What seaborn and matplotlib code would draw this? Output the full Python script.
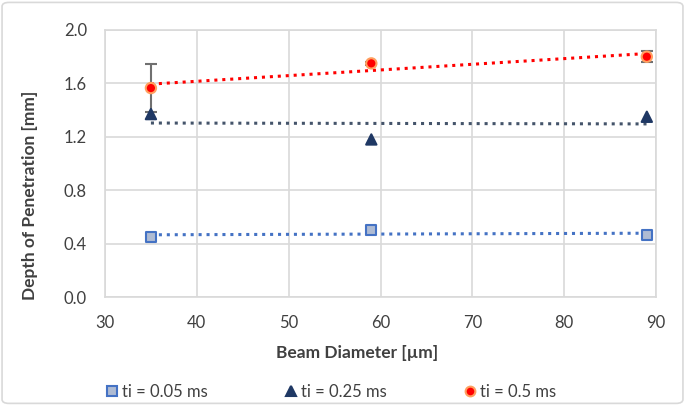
import numpy as np
import pandas as pd
import seaborn as sns
import matplotlib.pyplot as plt
from matplotlib.patches import FancyBboxPatch

beam = [35, 59, 89]
dop_005 = [0.45, 0.50, 0.465]
dop_025 = [1.37, 1.18, 1.35]
dop_05 = [1.565, 1.75, 1.80]
err_05 = [0.18, 0.01, 0.04]

series = ["ti = 0.05 ms", "ti = 0.25 ms", "ti = 0.5 ms"]

df = pd.DataFrame({
    "beam": beam * 3,
    "dop": dop_005 + dop_025 + dop_05,
    "series": [s for s in series for _ in beam],
})

sns.set_style("white")
plt.rcParams["font.family"] = ["Lato", "DejaVu Sans"]

fig = plt.figure(figsize=(6.85, 4.05), dpi=100)
ax = fig.add_axes([105 / 685, 1 - 297 / 405, 551 / 685, 267 / 405])

line_cols = {series[0]: "#4472C4", series[1]: "#44546A", series[2]: "#FF0000"}
for s in series:
    sub = df[df["series"] == s]
    sns.regplot(data=sub, x="beam", y="dop", ax=ax, scatter=False, ci=None,
                truncate=True,
                line_kws=dict(color=line_cols[s], linestyle=(0, (1, 1.6)), lw=2.2))

# error bars on 0.5 ms
ax.errorbar(beam, dop_05, yerr=err_05, fmt="none", ecolor="#707070",
            elinewidth=1.5, capsize=4, capthick=1.5, zorder=3)

sns.scatterplot(data=df, x="beam", y="dop", hue="series", style="series",
                markers={series[0]: "s", series[1]: "^", series[2]: "o"},
                palette={series[0]: "#AEBBD3", series[1]: "#203864", series[2]: "#FF0000"},
                s=55, ax=ax, zorder=4, legend=False)
# edge colours
coll = ax.collections[-1]
edges = []
for s in df["series"]:
    edges.append({series[0]: "#4472C4", series[1]: "#1F3864", series[2]: "#FFA060"}[s])
coll.set_edgecolors(edges)
coll.set_linewidths(1.5)

ax.set_xlim(30, 90)
ax.set_ylim(0, 2.0)
ax.set_xticks(np.arange(30, 91, 10))
ax.set_yticks(np.arange(0, 2.01, 0.4))
ax.set_yticklabels([f"{v:.1f}" for v in np.arange(0, 2.01, 0.4)])
ax.grid(True, color="#D9D9D9", lw=1.2)
for sp in ax.spines.values():
    sp.set_color("#D9D9D9")
    sp.set_linewidth(1.2)
ax.tick_params(length=0, labelsize=12, colors="#404040")
ax.tick_params(axis="x", pad=13)
ax.tick_params(axis="y", pad=13)
ax.set_xlabel("Beam Diameter [µm]", fontsize=12.5, fontweight="bold", color="#404040")
ax.set_ylabel("Depth of Penetration [mm]", fontsize=12.5, fontweight="bold", color="#404040")
ax.xaxis.set_label_coords((357 - 105) / 551, -(345 - 297) / 267)
ax.yaxis.set_label_coords((38 - 105) / 551, (297 - 195) / 267)

handles = [
    plt.Line2D([], [], marker="s", ls="none", markersize=7, markerfacecolor="#AEBBD3",
               markeredgecolor="#4472C4", markeredgewidth=1.5),
    plt.Line2D([], [], marker="^", ls="none", markersize=7, markerfacecolor="#203864",
               markeredgecolor="#1F3864", markeredgewidth=1.5),
    plt.Line2D([], [], marker="o", ls="none", markersize=7, markerfacecolor="#FF0000",
               markeredgecolor="#FFA060", markeredgewidth=1.5),
]
fig.legend(handles, series, loc="center left", bbox_to_anchor=(90 / 685, 1 - 392 / 405),
           ncol=3, frameon=False, fontsize=12, handletextpad=0.2, columnspacing=4.6,
           labelcolor="#404040", handlelength=0.8)

border = FancyBboxPatch((0.003, 0.004), 0.994, 0.99, boxstyle="round,pad=0,rounding_size=0.01",
                        transform=fig.transFigure, fill=False, edgecolor="#D9D9D9", lw=1.2)
fig.patches.append(border)

fig.savefig("out.png", dpi=100)
